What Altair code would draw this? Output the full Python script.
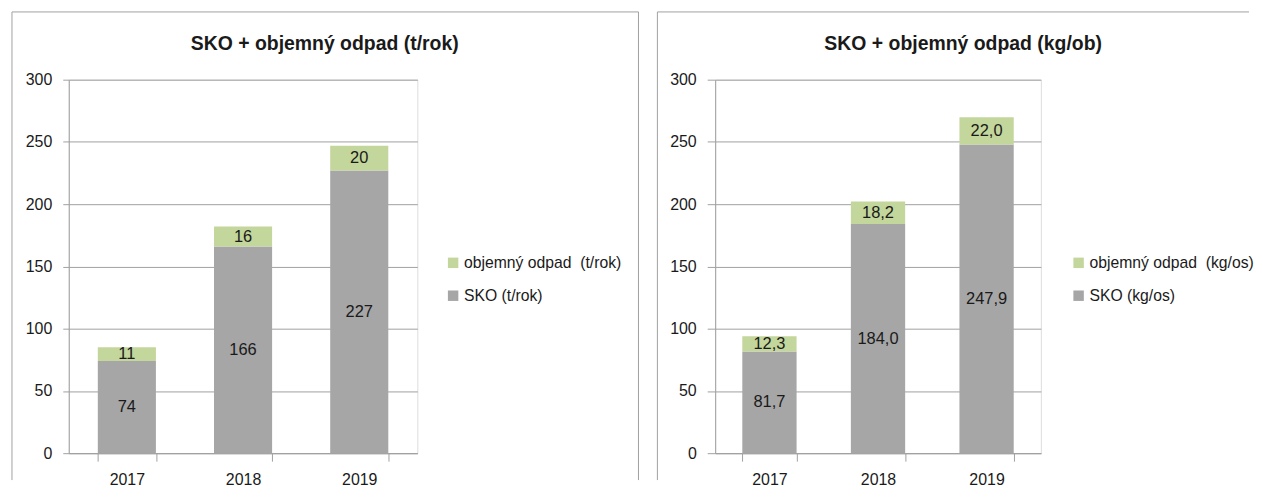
import altair as alt
import pandas as pd

years = ["2017", "2018", "2019"]

sko_t = [74, 166, 227]
obj_t = [11, 16, 20]

sko_kg = [81.7, 184.0, 247.9]
obj_kg = [12.3, 18.2, 22.0]

titles = ["SKO + objemný odpad (t/rok)", "SKO + objemný odpad (kg/ob)"]
legend_left = ["objemný odpad\u00a0 (t/rok)", "SKO (t/rok)"]
legend_right = ["objemný odpad\u00a0 (kg/os)", "SKO (kg/os)"]
y_ticks = [0, 50, 100, 150, 200, 250, 300]

FONT = "Liberation Sans, Arial"
GRAY = "#a6a6a6"
GREEN = "#c3d69b"
LINE = "#a0a0a0"
TXT = "#1a1a1a"


def make_df(sko, obj, names, decimals):
    rows = []
    for i, y in enumerate(years):
        for name, val, order in ((names[1], sko[i], 0), (names[0], obj[i], 1)):
            lab = f"{val:.{decimals}f}".replace(".", ",")
            rows.append({"year": y, "series": name, "value": val, "ord": order, "label": lab})
    return pd.DataFrame(rows)


def panel(df, names, title, width, height, title_x, fl, ft, fr, fb, right_side,
          legx, legy, tick_y):
    base = alt.Chart(df).transform_stack(
        stack="value", groupby=["year"], as_=["v0", "v1"],
        sort=[alt.SortField("ord", order="ascending")]
    ).transform_calculate(mid="(datum.v0 + datum.v1) / 2")

    x = alt.X("year:N", sort=years, title=None,
              scale=alt.Scale(paddingInner=0.5, paddingOuter=0.25),
              axis=alt.Axis(labelAngle=0, tickBand="extent", tickSize=8,
                            tickColor=LINE, domainColor=LINE, labelFontSize=16,
                            labelPadding=10, labelColor=TXT, labelFont=FONT))
    bars = base.mark_bar().encode(
        x=x,
        y=alt.Y("v0:Q", title=None,
                scale=alt.Scale(domain=[0, 300], nice=False),
                axis=alt.Axis(values=y_ticks, grid=True, gridColor=LINE,
                              domainColor=LINE, tickColor=LINE, tickSize=tick_y,
                              labelFontSize=16, labelPadding=11, labelColor=TXT,
                              labelFont=FONT)),
        y2="v1:Q",
        color=alt.Color("series:N",
                        scale=alt.Scale(domain=names, range=[GREEN, GRAY]),
                        legend=alt.Legend(title=None, orient="none",
                                          legendX=legx, legendY=legy,
                                          symbolType="square", symbolSize=110,
                                          symbolStrokeWidth=0, labelFontSize=15.8,
                                          labelFont=FONT, labelColor=TXT,
                                          rowPadding=16, labelOffset=3,
                                          labelLimit=300)),
    )
    texts = base.mark_text(fontSize=16.5, font=FONT, color=TXT, baseline="middle").encode(
        x=alt.X("year:N", sort=years),
        y=alt.Y("mid:Q"),
        text="label:N",
    )
    one = pd.DataFrame({"k": [0]})
    ttl = alt.Chart(one).mark_text(
        text=title, fontSize=19.5, font=FONT, fontWeight="bold", color=TXT,
        align="center", baseline="middle", clip=False
    ).encode(x=alt.value(title_x), y=alt.value(-36))
    frame_parts = [
        alt.Chart(one).mark_rule(color="#a0a0a0", clip=False).encode(
            x=alt.value(fl), y=alt.value(ft), y2=alt.value(fb)),
        alt.Chart(one).mark_rule(color="#a0a0a0", clip=False).encode(
            x=alt.value(fl), x2=alt.value(fr), y=alt.value(ft)),
    ]
    if right_side:
        frame_parts.append(
            alt.Chart(one).mark_rule(color="#a0a0a0", clip=False).encode(
                x=alt.value(fr), y=alt.value(ft), y2=alt.value(fb)))
    return alt.layer(bars, texts, ttl, *frame_parts).properties(
        width=width, height=height,
    ).resolve_scale(color="independent")


df_l = make_df(sko_t, obj_t, legend_left, 0)
df_r = make_df(sko_kg, obj_kg, legend_right, 1)

left = panel(df_l, legend_left, titles[0], 350, 375, 257, -57, -68, 572, 402, True, 378, 176, 6)
right = panel(df_r, legend_right, titles[1], 327, 375, 249, -58, -68, 536, 402, False, 357, 176, 8)

chart = alt.hconcat(left, right, spacing=17).resolve_scale(
    color="independent", y="independent", x="independent"
).resolve_legend(color="independent").properties(
    padding={"left": 3, "top": 2, "right": 0, "bottom": 0}
).configure_view(stroke=None).configure(font=FONT)

chart.save("out.html", embed_options={"renderer": "svg", "actions": False})
